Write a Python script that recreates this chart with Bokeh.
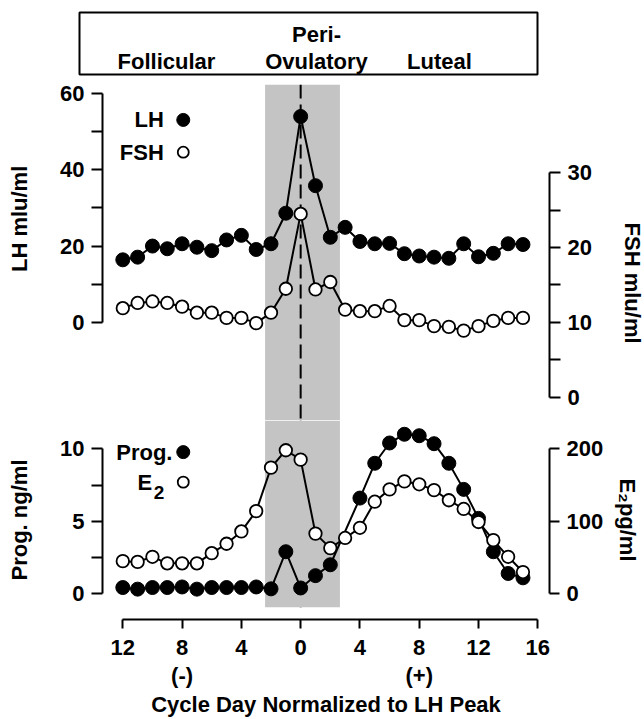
from bokeh.plotting import figure
from bokeh.models import Range1d, LinearAxis, FixedTicker, BoxAnnotation, Span
from bokeh.layouts import column
from bokeh.embed import file_html
from bokeh.resources import INLINE
from bokeh.core.properties import value

# ---------------- data ----------------
days = list(range(-12, 16))
lh = [16.4, 17.1, 20.0, 19.3, 20.6, 19.7, 18.8, 21.6, 22.8, 19.1, 20.6, 28.6, 53.9, 35.8,
      22.3, 24.9, 21.2, 20.6, 20.7, 18.0, 17.4, 17.1, 16.8, 20.6, 17.2, 18.1, 20.6, 20.4]
fsh = [11.9, 12.6, 12.8, 12.6, 12.1, 11.3, 11.3, 10.6, 10.6, 9.9, 11.3, 14.5, 24.5, 14.4,
       15.4, 11.7, 11.5, 11.5, 12.2, 10.3, 10.3, 9.5, 9.4, 8.9, 9.5, 10.2, 10.6, 10.6]
prog_days = [-12, -11, -10, -9, -8, -7, -6, -5, -4, -3, -2, -1, 0, 1, 2,
             4, 5, 6, 7, 8, 9, 10, 11, 12, 13, 14, 15]
prog = [0.43, 0.32, 0.43, 0.43, 0.47, 0.32, 0.43, 0.43, 0.43, 0.47, 0.34, 2.9, 0.4, 1.25, 2.0,
        6.6, 9.0, 10.4, 11.0, 10.9, 10.35, 9.0, 7.2, 5.2, 2.9, 1.4, 1.1]
e2_days = list(range(-12, 16))
e2 = [45, 44, 51, 42, 42, 42, 56, 69, 86, 114, 174, 198, 185, 83,
      63, 77, 91, 127, 144, 155, 151, 143, 129, 117, 99, 74, 51, 30]
phases = ["Follicular", "Peri-", "Ovulatory", "Luteal"]
x_ticks = [-12, -8, -4, 0, 4, 8, 12, 16]
x_tick_labels = ["12", "8\n(-)", "4", "0", "4", "8\n(+)", "12", "16"]
peri_window = (-2.4, 2.65)

# ---------------- style ----------------
FONT = "Liberation Sans"
TICK_FS = "22px"
LABEL_FS = "22px"
SHADE = "#c4c4c4"
NB = "\u00a0"


def style_axis(ax, tick_out=11, label_standoff=10, tick_standoff=7):
    ax.axis_line_width = 2
    ax.axis_line_color = "black"
    ax.major_tick_line_width = 2
    ax.minor_tick_line_width = 2
    ax.major_tick_line_color = "black"
    ax.minor_tick_line_color = "black"
    ax.major_tick_out = tick_out
    ax.minor_tick_out = tick_out
    ax.major_tick_in = 0
    ax.minor_tick_in = 0
    ax.major_label_text_font = FONT
    ax.major_label_text_font_size = TICK_FS
    ax.major_label_text_font_style = "bold"
    ax.major_label_text_color = "black"
    ax.major_label_standoff = tick_standoff
    ax.axis_label_text_font = FONT
    ax.axis_label_text_font_size = LABEL_FS
    ax.axis_label_text_font_style = "bold"
    ax.axis_label_text_color = "black"
    ax.axis_label_standoff = label_standoff


x_range = Range1d(-13.37, 16.79)

# ---------------- header ----------------
hdr = figure(width=644, height=76, x_range=Range1d(0, 644), y_range=Range1d(76, 0),
             x_axis_type=None, y_axis_type=None, min_border=0,
             output_backend="svg", toolbar_location=None)
hdr.outline_line_color = None
hdr.quad(left=[79], right=[537], top=[12], bottom=[74], fill_color=None,
         line_color="black", line_width=2)
hdr.text(x=[166, 316, 316, 439], y=[61, 34, 61, 61], text=phases,
         text_font=value(FONT), text_font_size=LABEL_FS, text_font_style="bold",
         text_align="center", text_baseline="middle", text_color="black")

# ---------------- top panel (LH / FSH) ----------------
top = figure(frame_width=447, frame_height=336, x_range=x_range,
             y_range=Range1d(-25.64, 62.27), x_axis_type=None, y_axis_type=None,
             min_border_left=102, min_border_right=95, min_border_top=8, min_border_bottom=0,
             output_backend="svg", toolbar_location=None)
top.outline_line_color = None
top.extra_y_ranges = {"fsh": Range1d(-3.115, 41.8)}

lh_axis = LinearAxis(bounds=(0, 60), ticker=FixedTicker(ticks=[0, 20, 40, 60], minor_ticks=[10, 30, 50]),
                     axis_label=NB * 11 + "LH mlu/ml")
style_axis(lh_axis, label_standoff=25)
top.add_layout(lh_axis, "left")
fsh_axis = LinearAxis(y_range_name="fsh", bounds=(0, 30),
                      ticker=FixedTicker(ticks=[0, 10, 20, 30], minor_ticks=[5, 15, 25]),
                      axis_label=NB * 10 + "FSH mlu/ml")
style_axis(fsh_axis, label_standoff=25)
top.add_layout(fsh_axis, "right")

top.add_layout(BoxAnnotation(left=peri_window[0], right=peri_window[1], fill_color=SHADE,
                             fill_alpha=1, line_color=None, level="underlay"))
top.add_layout(Span(location=0, dimension="height", line_color="black", line_width=2,
                    line_dash="14 6", level="underlay"))

top.line(days, lh, line_color="black", line_width=2)
top.scatter(days, lh, size=14, fill_color="black", line_color="black")
top.line(days, fsh, y_range_name="fsh", line_color="black", line_width=2)
top.scatter(days, fsh, y_range_name="fsh", size=12.5, fill_color="white",
            line_color="black", line_width=1.8)

# legend
top.text(x=[-9.23, -9.23], y=[53.0, 44.56], text=["LH", "FSH"], text_font=value(FONT),
         text_font_size=LABEL_FS, text_font_style="bold", text_align="right",
         text_baseline="middle", text_color="black")
top.scatter([-7.92], [53.0], size=13, fill_color="black", line_color="black")
top.scatter([-7.92], [44.56], size=11, fill_color="white", line_color="black", line_width=1.8)

# ---------------- bottom panel (Prog / E2) ----------------
bot = figure(frame_width=447, frame_height=199, x_range=x_range,
             y_range=Range1d(-1.774, 11.95), x_axis_type=None, y_axis_type=None,
             min_border_left=102, min_border_right=95, min_border_top=0, min_border_bottom=100,
             output_backend="svg", toolbar_location=None)
bot.outline_line_color = None
bot.extra_y_ranges = {"e2": Range1d(-35.48, 239.0)}

prog_axis = LinearAxis(bounds=(0, 10), ticker=FixedTicker(ticks=[0, 5, 10], minor_ticks=[2.5, 7.5]),
                       axis_label="Prog. ng/ml")
style_axis(prog_axis, label_standoff=25)
bot.add_layout(prog_axis, "left")
e2_axis = LinearAxis(y_range_name="e2", bounds=(0, 200), ticker=FixedTicker(ticks=[0, 100, 200]),
                     axis_label="E\u2082pg/ml")
style_axis(e2_axis, tick_out=10, label_standoff=9)
bot.add_layout(e2_axis, "right")

x_axis = LinearAxis(bounds=(-12, 16), ticker=FixedTicker(ticks=x_ticks),
                    major_label_overrides=dict(zip(x_ticks, x_tick_labels)),
                    axis_label="Cycle Day Normalized to LH Peak")
style_axis(x_axis, tick_out=9, label_standoff=1, tick_standoff=6)
x_axis.major_label_text_line_height = 1.12
bot.add_layout(x_axis, "below")

bot.add_layout(BoxAnnotation(left=peri_window[0], right=peri_window[1], bottom=-0.924,
                             fill_color=SHADE, fill_alpha=1, line_color=None, level="underlay"))
bot.segment(x0=[0], y0=[-0.924], x1=[0], y1=[11.95], line_color="black", line_width=2,
            line_dash="14 6", level="underlay")

bot.line(prog_days, prog, line_color="black", line_width=2)
bot.scatter(prog_days, prog, size=14, fill_color="black", line_color="black")
bot.line(e2_days, e2, y_range_name="e2", line_color="black", line_width=2)
bot.scatter(e2_days, e2, y_range_name="e2", size=12.5, fill_color="white",
            line_color="black", line_width=1.8)

# legend
bot.text(x=[-8.65, -10.02], y=[9.77, 7.70], text=["Prog.", "E"], text_font=value(FONT),
         text_font_size=LABEL_FS, text_font_style="bold", text_align="right",
         text_baseline="middle", text_color="black")
bot.text(x=[-9.91], y=[7.0], text=["2"], text_font=value(FONT), text_font_size="19px",
         text_font_style="bold", text_align="left", text_baseline="middle", text_color="black")
bot.scatter([-7.92], [9.77], size=13, fill_color="black", line_color="black")
bot.scatter([-7.92], [7.70], size=11, fill_color="white", line_color="black", line_width=1.8)

layout = column(hdr, column(top, bot, spacing=0), spacing=0)
open("out.html", "w").write(file_html(layout, INLINE))
